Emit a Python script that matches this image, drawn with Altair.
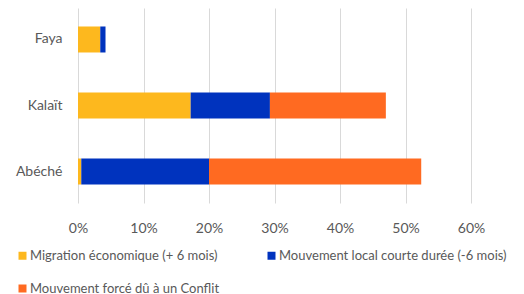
import altair as alt
import pandas as pd

categories = ["Faya", "Kalaït", "Abéché"]
series = [
    "Migration économique (+ 6 mois)",
    "Mouvement local courte durée (-6 mois)",
    "Mouvement forcé dû à un Conflit",
]
migration = [0.034, 0.172, 0.005]
local_court = [0.008, 0.121, 0.195]
conflit = [0.0, 0.177, 0.324]
colors = ["#FDB81E", "#0033BE", "#FF6A21"]
ticks = [0, 0.1, 0.2, 0.3, 0.4, 0.5, 0.6]

rows = []
for i, c in enumerate(categories):
    for j, (s, vals) in enumerate(zip(series, [migration, local_court, conflit])):
        rows.append({"Ville": c, "Type": s, "Valeur": vals[i], "ordre": j})
df = pd.DataFrame(rows)

font = "Lato"
chart = (
    alt.Chart(df)
    .mark_bar(size=26)
    .encode(
        y=alt.Y(
            "Ville:N",
            sort=categories,
            scale=alt.Scale(paddingInner=0.6, paddingOuter=0.277),
            axis=alt.Axis(
                title=None, ticks=False, domain=False, labelPadding=16,
                labelFontSize=14, labelColor="#595959", labelFont=font,
            ),
        ),
        x=alt.X(
            "Valeur:Q",
            stack="zero",
            scale=alt.Scale(domain=[0, 0.6], nice=False),
            axis=alt.Axis(
                title=None, format=".0%", values=ticks, ticks=False, domain=False,
                labelPadding=18, labelFontSize=14, labelColor="#595959", labelFont=font,
                labelFlush=False, gridColor="#D9D9D9", gridWidth=1,
            ),
        ),
        color=alt.Color(
            "Type:N",
            sort=series,
            scale=alt.Scale(domain=series, range=colors),
            legend=alt.Legend(
                title=None, orient="none", legendX=-62, legendY=241, columns=2,
                direction="horizontal",
                symbolType="square", symbolSize=64, symbolStrokeWidth=0,
                labelFontSize=13, labelColor="#595959", labelFont=font,
                columnPadding=45, rowPadding=19, padding=0, symbolOffset=0,
                labelOffset=1, labelLimit=400,
            ),
        ),
        order=alt.Order("ordre:Q"),
    )
    .properties(
        width=393, height=195,
        autosize=alt.AutoSizeParams(type="none"),
        padding={"left": 70, "top": 0, "right": 45, "bottom": 91},
    )
    .configure_view(stroke=None)
)

chart.save("out.html", embed_options={"renderer": "svg", "actions": False})
